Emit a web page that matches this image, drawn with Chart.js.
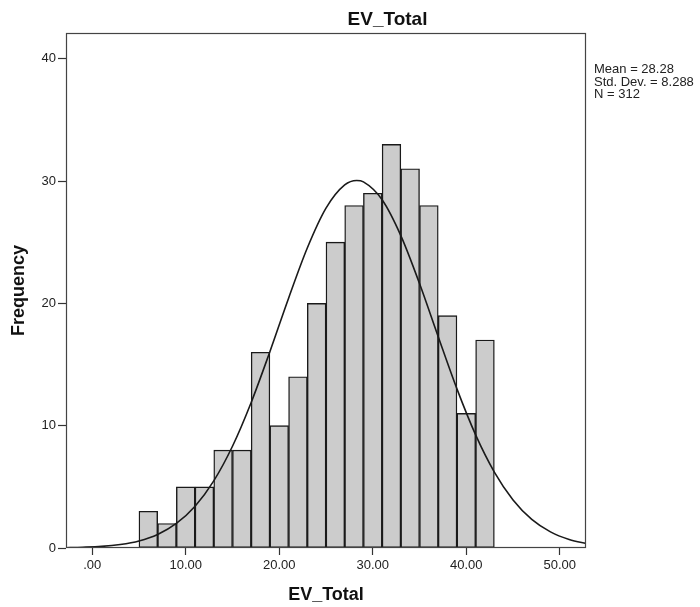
<!DOCTYPE html>
<html>
<head>
<meta charset="utf-8">
<title>EV_Total</title>
<script src="https://cdn.jsdelivr.net/npm/chart.js@4.4.1/dist/chart.umd.min.js"></script>
<style>
  html, body { margin: 0; padding: 0; background: #fff; }
  canvas { display: block; }
</style>
</head>
<body>
<canvas id="histChart" width="700" height="607"></canvas>
<script>
// histogram bins (width 2), centres and counts
const binCenters = [6, 8, 10, 12, 14, 16, 18, 20, 22, 24, 26, 28, 30, 32, 34, 36, 38, 40, 42];
const binCounts  = [3, 2, 5, 5, 8, 8, 16, 10, 14, 20, 25, 28, 29, 33, 31, 28, 19, 11, 17];

// normal curve, points
const curveX = [-3, -1, 1, 3, 5, 7, 9, 11, 13, 15, 17, 19, 21, 23, 25, 27, 28.28, 29, 31, 33, 35, 37, 39, 41, 43, 45, 47, 49, 51, 53];
const curveY = [0.02, 0.06, 0.13, 0.29, 0.58, 1.11, 2.01, 3.42, 5.49, 8.32, 11.9, 16.05, 20.42, 24.52, 27.78, 29.68, 30.04, 29.93, 28.47, 25.54, 21.62, 17.27, 13.01, 9.25, 6.21, 3.93, 2.34, 1.32, 0.7, 0.35];

const xTicks = [0, 10, 20, 30, 40, 50];
const yTicks = [0, 10, 20, 30, 40];

const statLines = ['Mean = 28.28', 'Std. Dev. = 8.288', 'N = 312'];

const FONT = 'Arial, "Liberation Sans", sans-serif';

// title, frame and the stats text on the right
const decorPlugin = {
  id: 'decor',
  afterDraw(chart) {
    const ctx = chart.ctx;
    const a = chart.chartArea;
    ctx.save();
    ctx.strokeStyle = '#444';
    ctx.lineWidth = 1.2;
    ctx.strokeRect(Math.round(a.left) + 0.5, Math.round(a.top) + 0.5,
      Math.round(a.right - a.left) - 1, Math.round(a.bottom - a.top) - 1);

    ctx.fillStyle = '#111';
    ctx.font = 'bold 19px ' + FONT;
    ctx.textAlign = 'center';
    ctx.textBaseline = 'alphabetic';
    ctx.fillText('EV_Total', 387.5, 25);

    ctx.font = '13px ' + FONT;
    ctx.textAlign = 'left';
    ctx.fillStyle = '#222';
    statLines.forEach((t, i) => ctx.fillText(t, a.right + 8, 73 + i * 12.5));
    ctx.restore();
  }
};

const ctx = document.getElementById('histChart').getContext('2d');
const histChart = new Chart(ctx, {
  type: 'bar',
  data: {
    datasets: [
      {
        type: 'line',
        data: curveX.map((x, i) => ({ x: x, y: curveY[i] })),
        borderColor: '#1a1a1a',
        borderWidth: 1.6,
        pointRadius: 0,
        fill: false,
        cubicInterpolationMode: 'monotone',
        order: 0
      },
      {
        type: 'bar',
        data: binCenters.map((x, i) => ({ x: x, y: binCounts[i] })),
        backgroundColor: '#cccccc',
        borderColor: '#1a1a1a',
        borderWidth: 1.4,
        borderSkipped: false,
        barPercentage: 1,
        categoryPercentage: 1,
        grouped: false,
        order: 1
      }
    ]
  },
  options: {
    responsive: false,
    animation: false,
    layout: { padding: { left: 0, right: 114, top: 33, bottom: 0 } },
    plugins: {
      legend: { display: false },
      tooltip: { enabled: false },
      title: { display: false }
    },
    scales: {
      x: {
        type: 'linear',
        min: -2.8,
        max: 52.8,
        offset: false,
        afterFit: (scale) => { scale.height = 59; },
        afterBuildTicks: (scale) => { scale.ticks = xTicks.map(v => ({ value: v })); },
        border: { display: false },
        grid: { drawOnChartArea: false, offset: false, tickLength: 7, color: '#333', tickWidth: 1.2 },
        ticks: {
          padding: 3,
          color: '#222',
          font: { family: FONT, size: 13 },
          callback: (v) => v === 0 ? '.00' : v.toFixed(2)
        },
        title: {
          display: true,
          text: 'EV_Total',
          color: '#111',
          font: { family: FONT, size: 18, weight: 'bold' },
          padding: { top: 0, bottom: 1 }
        }
      },
      y: {
        min: 0,
        max: 42.1,
        afterFit: (scale) => { scale.width = 66; },
        afterBuildTicks: (scale) => { scale.ticks = yTicks.map(v => ({ value: v })); },
        border: { display: false },
        grid: { drawOnChartArea: false, tickLength: 8, color: '#333', tickWidth: 1.2 },
        ticks: {
          padding: 2,
          color: '#222',
          font: { family: FONT, size: 13 }
        },
        title: {
          display: true,
          text: 'Frequency',
          color: '#111',
          font: { family: FONT, size: 18, weight: 'bold' },
          padding: { top: 8, bottom: 0 }
        }
      }
    }
  },
  plugins: [decorPlugin]
});
</script>
</body>
</html>
